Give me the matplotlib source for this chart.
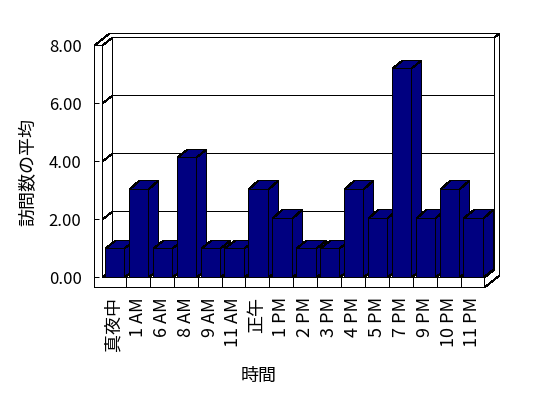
import matplotlib
matplotlib.use('Agg')
import matplotlib.pyplot as plt
from matplotlib.patches import Polygon

plt.rcParams['font.family'] = ['Noto Sans CJK JP', 'DejaVu Sans']
plt.rcParams['lines.antialiased'] = False
plt.rcParams['patch.antialiased'] = False

hours = ['真夜中', '1 AM', '6 AM', '8 AM', '9 AM', '11 AM', '正午', '1 PM',
         '2 PM', '3 PM', '4 PM', '5 PM', '7 PM', '9 PM', '10 PM', '11 PM']
visits = [1, 3.05, 1, 4.15, 1, 1, 3.05, 2.05, 1, 1, 3.05, 2.05, 7.2, 2.05,
          3.05, 2.05]
yticks = [0, 2, 4, 6, 8]
ytick_labels = ['0.00', '2.00', '4.00', '6.00', '8.00']

# fake 3d look, everything in data units
dx, dy = 0.42, 0.28      # depth of the plot box
wall = 0.335             # left wall thickness
floor = 0.345            # floor thickness
bk = 1.5                 # back wall outer face, in depths
bar_w = 0.81
bar_off = 0.125
navy = '#000080'
lw = 0.72


def face(ax, pts, fc='white', z=1):
    ax.add_patch(Polygon(pts, closed=True, fc=fc, ec='black', lw=lw,
                         clip_on=False, joinstyle='miter', zorder=z,
                         snap=True))


fig = plt.figure(figsize=(5.48, 3.98), dpi=100)
ax = fig.add_axes([94/548, 110/398, 408/548, 256/398])
n = len(hours)
ymax = yticks[-1]
ax.set_xlim(-wall, -wall + 408/23.9)
ax.set_ylim(-11/29, -11/29 + 256/29)
for s in ax.spines.values():
    s.set_visible(False)

# walls
face(ax, [(n, -floor), (n, 0), (n+dx, dy), (n+dx, ymax+dy),
          (n+bk*dx, ymax+bk*dy), (n+bk*dx, -floor+bk*dy)])
face(ax, [(-wall, ymax), (0, ymax), (dx, ymax+dy), (n+dx, ymax+dy),
          (n+bk*dx, ymax+bk*dy), (-wall+bk*dx, ymax+bk*dy)])
face(ax, [(dx, dy), (n+dx, dy), (n+dx, ymax+dy), (dx, ymax+dy)])
face(ax, [(0, 0), (dx, dy), (dx, ymax+dy), (0, ymax)])
for v in yticks[1:-1]:
    ax.plot([0, dx, n+dx], [v, v+dy, v+dy], color='black', lw=lw,
            zorder=2, clip_on=False, snap=True)
face(ax, [(0, 0), (n, 0), (n+dx, dy), (dx, dy)], z=3)
face(ax, [(-wall, -floor), (n, -floor), (n, 0), (0, 0), (0, ymax),
          (-wall, ymax)], z=3)
for i in range(1, n):
    ax.plot([i, i], [-floor, 0], color='black', lw=lw, zorder=4, snap=True)

# bars, left to right so each one hides the side of the previous
x0s = [i + bar_off for i in range(n)]
bars = ax.bar(x0s, visits, width=bar_w, align='edge', color=navy,
              edgecolor='black', linewidth=lw)
for i, (b, v) in enumerate(zip(bars, visits)):
    z = 10 + i
    x0 = x0s[i]
    x1 = x0 + bar_w
    face(ax, [(x1, 0), (x1+dx, dy), (x1+dx, v+dy), (x1, v)], navy, z)
    face(ax, [(x0, v), (x1, v), (x1+dx, v+dy), (x0+dx, v+dy)], navy, z)
    b.set_zorder(z + 0.5)
    b.set_clip_on(False)
    b.set_snap(True)

ax.set_yticks(yticks, ytick_labels)
ax.tick_params(axis='y', direction='in', length=3.6, width=lw, pad=9,
               labelsize=12)
ax.yaxis.set_zorder(50)
ax.set_xticks([i + 0.5 for i in range(n)], hours, rotation=90)
ax.tick_params(axis='x', length=0, pad=6.5, labelsize=13)

fig.text(259/548, 1 - 376/398, '時間', ha='center', va='center', fontsize=13)
fig.text(28/548, 1 - 172/398, '訪問数の平均', ha='center', va='center',
         rotation=90, fontsize=13)

fig.savefig('out.png', dpi=100)
